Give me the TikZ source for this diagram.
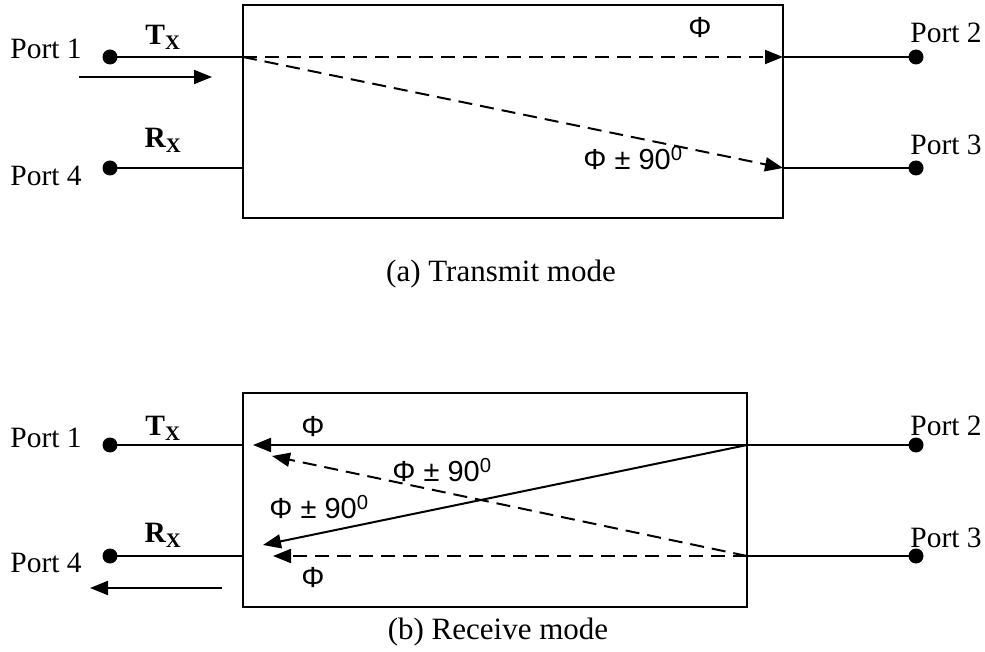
\documentclass[tikz,border=0pt]{standalone}
\usepackage{fontspec}
\setmainfont{Liberation Serif}
\newfontfamily\phifont{Liberation Sans}
\usetikzlibrary{arrows.meta}
\begin{document}
\begin{tikzpicture}[x=1pt,y=-1pt, line width=2pt,
 dot/.style={circle,fill,inner sep=0pt,minimum size=15pt},
 tip/.style={-{Triangle[length=18pt,width=14pt]}},
 dsh/.style={dash pattern=on 14pt off 8pt},
 lbl/.style={font=\fontsize{29.5}{31}\selectfont, inner sep=0pt},
 captext/.style={font=\fontsize{31}{33}\selectfont, inner sep=0pt},
 phi/.style={font=\phifont\fontsize{29}{31}\selectfont, inner sep=0pt},
 sig/.style={font=\fontsize{29.5}{31}\selectfont\bfseries, inner sep=0pt},
 boxst/.style={draw, inner sep=0pt, line width=2pt}]
\useasboundingbox (0,0) rectangle (985,652);
% ---------------- (a) Transmit mode ----------------
\node[boxst, minimum width=540pt, minimum height=213pt] (boxA) at (513,111.5) {};
\coordinate (a1) at (243,57);
\coordinate (a4) at (243,168);
\coordinate (a2) at (783,57);
\coordinate (a3) at (783,168);
\node[dot] (pa1) at (110,57) {};
\node[dot] (pa4) at (110,168) {};
\node[dot] (pa2) at (916,57) {};
\node[dot] (pa3) at (916,168) {};
\node[lbl] (la1) at (46,49) {Port 1};
\node[lbl] (la4) at (46,176) {Port 4};
\node[lbl] (la2) at (946,33) {Port 2};
\node[lbl] (la3) at (946,145) {Port 3};
\node[sig] (txa) at (163,37) {T\textsubscript{X}};
\node[sig] (rxa) at (163,140) {R\textsubscript{X}};
\draw (pa1.center) -- (a1);
\draw (pa4.center) -- (a4);
\draw (a2) -- (pa2.center);
\draw (a3) -- (pa3.center);
\coordinate (ina0) at (79,77);
\coordinate (ina1) at (212,77);
\draw[tip] (ina0) -- (ina1);
\draw[tip,dsh] (a1) -- (a2);
\draw[tip,dsh] (a1) -- (a3);
\node[phi] (phA) at (700,28) {Φ};
\node[phi] (phB) at (633,158) {Φ ± 90\textsuperscript{0}};
\node[captext] (capA) at (501,274) {(a) Transmit mode};
% ---------------- (b) Receive mode ----------------
\node[boxst, minimum width=504pt, minimum height=214pt] (boxB) at (495,500) {};
\coordinate (b1) at (243,445);
\coordinate (b4) at (243,556);
\coordinate (b2) at (747,445);
\coordinate (b3) at (747,556);
\node[dot] (pb1) at (110,445) {};
\node[dot] (pb4) at (110,556) {};
\node[dot] (pb2) at (916,445) {};
\node[dot] (pb3) at (916,556) {};
\node[lbl] (lb1) at (46,438) {Port 1};
\node[lbl] (lb4) at (46,563) {Port 4};
\node[lbl] (lb2) at (946,426) {Port 2};
\node[lbl] (lb3) at (946,538) {Port 3};
\node[sig] (txb) at (163,428) {T\textsubscript{X}};
\node[sig] (rxb) at (163,535) {R\textsubscript{X}};
\draw (pb1.center) -- (b1);
\draw (pb4.center) -- (b4);
\draw (b2) -- (pb2.center);
\draw (b3) -- (pb3.center);
\coordinate (t1) at (253,445);
\coordinate (t2) at (272,456);
\coordinate (t3) at (263,545);
\coordinate (t4) at (273,556);
\draw[tip] (b2) -- (t1);
\draw[tip,dsh] (b3) -- (t2);
\draw[tip] (b2) -- (t3);
\draw[tip,dsh] (b3) -- (t4);
\coordinate (outb0) at (222,588);
\coordinate (outb1) at (90,588);
\draw[tip] (outb0) -- (outb1);
\node[phi] (phC) at (313,427) {Φ};
\node[phi] (phD) at (442,470) {Φ ± 90\textsuperscript{0}};
\node[phi] (phE) at (319,507) {Φ ± 90\textsuperscript{0}};
\node[phi] (phF) at (313,578) {Φ};
\node[captext] (capB) at (498,632) {(b) Receive mode};
\end{tikzpicture}
\end{document}
